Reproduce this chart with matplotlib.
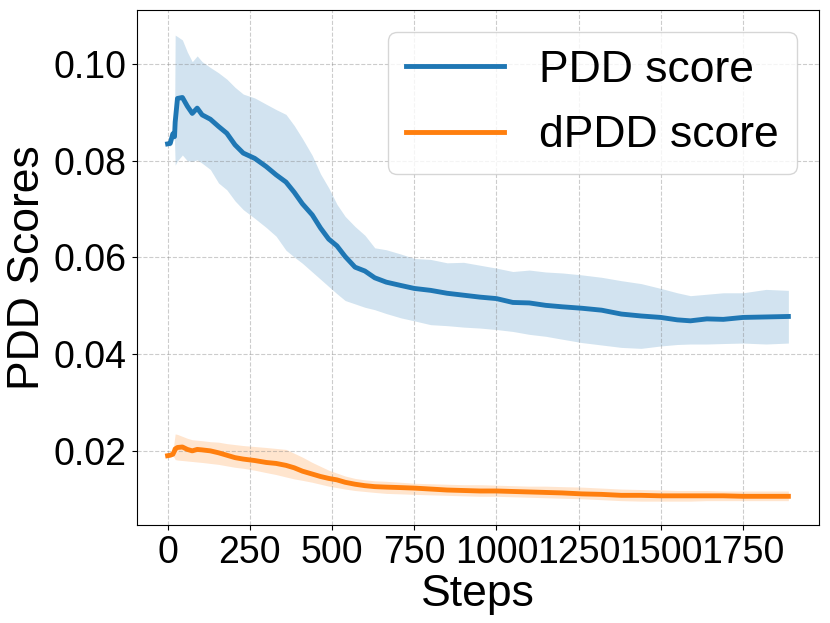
import matplotlib
matplotlib.use("Agg")
import matplotlib.pyplot as plt
import numpy as np

plt.rcParams['font.family'] = ['Liberation Sans', 'DejaVu Sans']

steps = [0, 8, 16, 21, 23, 30, 45, 60, 75, 90, 105, 130, 155, 180, 205,
         230, 265, 300, 330, 360, 385, 410, 440, 465, 490, 515, 540, 570, 600, 630,
         665, 710, 750, 800, 850, 900, 950, 1000, 1050, 1100, 1150, 1200, 1260, 1320, 1380,
         1440, 1500, 1550, 1590, 1640, 1690, 1750, 1820, 1888]

pdd_mean = [0.0835, 0.0836, 0.0856, 0.0850, 0.0880, 0.0929, 0.0931, 0.0913, 0.0898, 0.0909,
            0.0895, 0.0886, 0.0871, 0.0857, 0.0833, 0.0816, 0.0805, 0.0788, 0.0771, 0.0756,
            0.0735, 0.0711, 0.0688, 0.0661, 0.0638, 0.0624, 0.0602, 0.0580, 0.0572, 0.0558,
            0.0549, 0.0542, 0.0536, 0.0532, 0.0526, 0.0522, 0.0518, 0.0515, 0.0507, 0.0506,
            0.0501, 0.0498, 0.0495, 0.0491, 0.0483, 0.0479, 0.0476, 0.0471, 0.0469, 0.0473,
            0.0472, 0.0476, 0.0477, 0.0478]
pdd_upper = [0.0836, 0.0842, 0.0862, 0.0858, 0.1060, 0.1057, 0.1050, 0.1025, 0.1005, 0.1017,
             0.1005, 0.0993, 0.0982, 0.0969, 0.0952, 0.0938, 0.0930, 0.0917, 0.0906, 0.0896,
             0.0873, 0.0846, 0.0811, 0.0773, 0.0744, 0.0710, 0.0685, 0.0664, 0.0646, 0.0620,
             0.0616, 0.0607, 0.0598, 0.0596, 0.0589, 0.0590, 0.0584, 0.0578, 0.0571, 0.0574,
             0.0570, 0.0568, 0.0564, 0.0559, 0.0552, 0.0546, 0.0536, 0.0527, 0.0521, 0.0524,
             0.0527, 0.0527, 0.0534, 0.0532]
pdd_lower = [0.0834, 0.0830, 0.0848, 0.0842, 0.0791, 0.0800, 0.0812, 0.0800, 0.0799, 0.0802,
             0.0795, 0.0782, 0.0754, 0.0740, 0.0717, 0.0699, 0.0681, 0.0662, 0.0644, 0.0615,
             0.0601, 0.0588, 0.0570, 0.0555, 0.0540, 0.0525, 0.0511, 0.0504, 0.0497, 0.0492,
             0.0484, 0.0475, 0.0469, 0.0461, 0.0459, 0.0456, 0.0454, 0.0451, 0.0447, 0.0441,
             0.0437, 0.0431, 0.0424, 0.0419, 0.0414, 0.0412, 0.0417, 0.0420, 0.0421, 0.0421,
             0.0422, 0.0423, 0.0421, 0.0423]

dpdd_mean = [0.0190, 0.0191, 0.0193, 0.0200, 0.0204, 0.0207, 0.0208, 0.0203, 0.0200, 0.0203,
             0.0202, 0.0200, 0.0196, 0.0191, 0.0186, 0.0183, 0.0180, 0.0176, 0.0174, 0.0170,
             0.0165, 0.0158, 0.0152, 0.0147, 0.0143, 0.0140, 0.0135, 0.0131, 0.0128, 0.0126,
             0.0125, 0.0124, 0.0123, 0.0121, 0.0119, 0.0118, 0.0117, 0.0117, 0.0116, 0.0115,
             0.0114, 0.0113, 0.0111, 0.0110, 0.0108, 0.0108, 0.0107, 0.0107, 0.0107, 0.0107,
             0.0107, 0.0106, 0.0106, 0.0106]
dpdd_upper = [0.0191, 0.0193, 0.0196, 0.0225, 0.0235, 0.0234, 0.0230, 0.0226, 0.0223, 0.0222,
              0.0221, 0.0219, 0.0218, 0.0215, 0.0213, 0.0211, 0.0209, 0.0207, 0.0205, 0.0203,
              0.0195, 0.0187, 0.0176, 0.0168, 0.0160, 0.0154, 0.0148, 0.0143, 0.0140, 0.0138,
              0.0137, 0.0135, 0.0133, 0.0132, 0.0131, 0.0130, 0.0130, 0.0129, 0.0128, 0.0127,
              0.0127, 0.0126, 0.0125, 0.0123, 0.0121, 0.0120, 0.0119, 0.0118, 0.0118, 0.0118,
              0.0117, 0.0117, 0.0117, 0.0117]
dpdd_lower = [0.0189, 0.0189, 0.0190, 0.0185, 0.0182, 0.0181, 0.0180, 0.0179, 0.0178, 0.0177,
              0.0176, 0.0174, 0.0172, 0.0169, 0.0166, 0.0164, 0.0160, 0.0155, 0.0151, 0.0146,
              0.0142, 0.0139, 0.0135, 0.0131, 0.0127, 0.0124, 0.0121, 0.0118, 0.0116, 0.0114,
              0.0112, 0.0111, 0.0110, 0.0109, 0.0108, 0.0107, 0.0106, 0.0106, 0.0105, 0.0104,
              0.0103, 0.0102, 0.0101, 0.0099, 0.0097, 0.0096, 0.0096, 0.0096, 0.0096, 0.0097,
              0.0097, 0.0097, 0.0097, 0.0097]

xticks = [0, 250, 500, 750, 1000, 1250, 1500, 1750]
yticks = [0.02, 0.04, 0.06, 0.08, 0.10]

fig = plt.figure(figsize=(8.3, 6.23), dpi=100)
ax = fig.add_axes([0.1647, 0.1568, 0.822, 0.8272])

ax.fill_between(steps, pdd_lower, pdd_upper, color='C0', alpha=0.2, linewidth=0)
ax.plot(steps, pdd_mean, color='C0', lw=3.5, label='PDD score')
ax.fill_between(steps, dpdd_lower, dpdd_upper, color='C1', alpha=0.2, linewidth=0)
ax.plot(steps, dpdd_mean, color='C1', lw=3.5, label='dPDD score')

ax.set_xlim(-94, 1981)
ax.set_ylim(0.0046, 0.1112)
ax.set_xticks(xticks)
ax.set_yticks(yticks)
ax.set_xticklabels([str(t) for t in xticks])
ax.set_yticklabels(['%.2f' % t for t in yticks])
ax.tick_params(labelsize=27)
ax.grid(True, linestyle='--', color='gray', alpha=0.4, linewidth=0.8)
ax.set_xlabel('Steps', fontsize=32, labelpad=2)
ax.set_ylabel('PDD Scores', fontsize=32, labelpad=4)
ax.legend(loc='upper right', fontsize=32, handlelength=2.2, labelspacing=0.55)

fig.savefig('out.png', dpi=100)
